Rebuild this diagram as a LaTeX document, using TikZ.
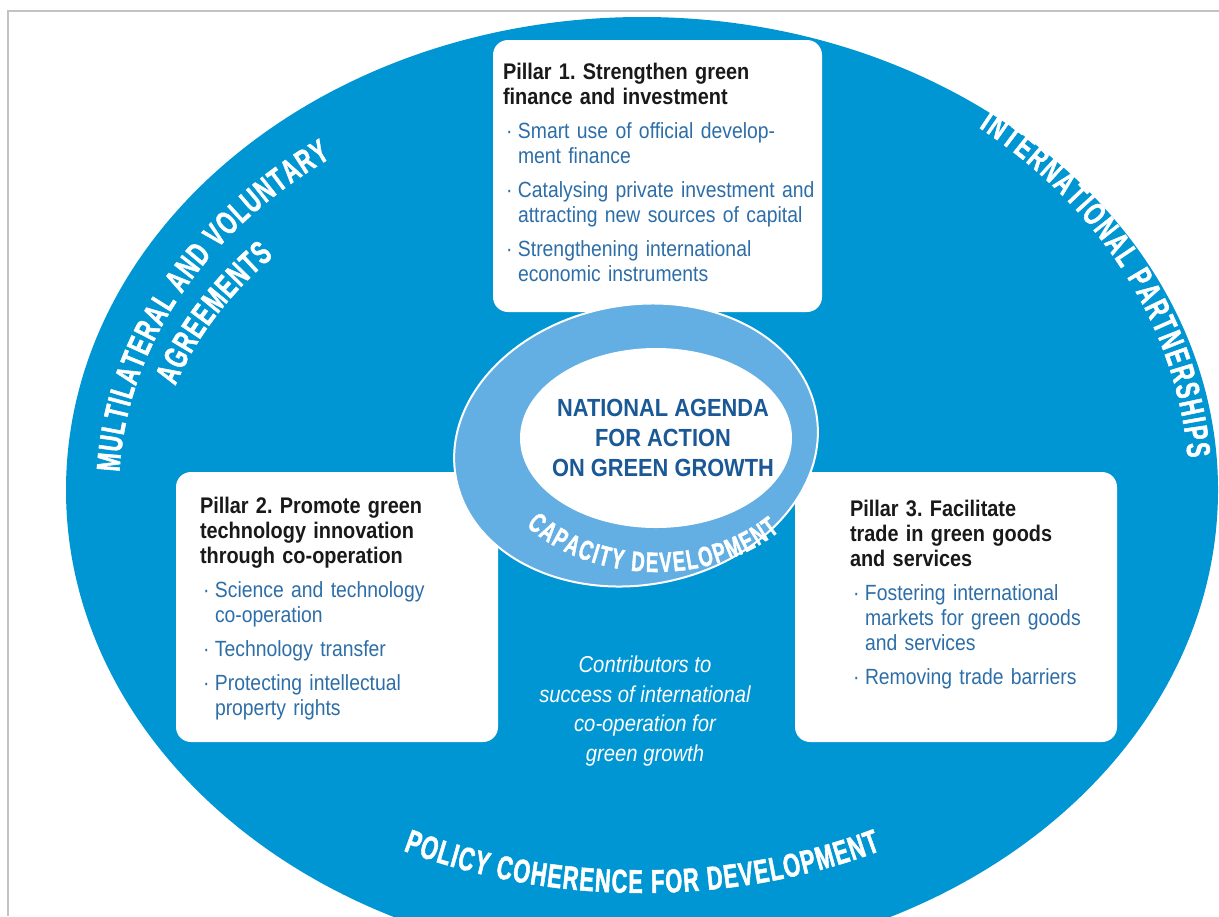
\documentclass[tikz,border=0pt]{standalone}
\usepackage{fontspec}
\setmainfont{Liberation Sans}[FakeStretch=0.88]
\newfontfamily\arcfont{Liberation Sans}[FakeStretch=0.66, FakeBold=1.5]
\usetikzlibrary{positioning,shapes.geometric,decorations.text}
\frenchspacing

\definecolor{oceanblue}{RGB}{0,150,211}
\definecolor{ringblue}{RGB}{99,174,226}
\definecolor{agendablue}{RGB}{27,88,150}
\definecolor{bulletblue}{RGB}{45,110,168}
\definecolor{headblack}{RGB}{25,25,25}
\definecolor{framegray}{RGB}{195,195,195}

% bullet with hanging indent (break its lines with \newline)
\newcommand{\pbul}{\par\vspace{4.5pt}\hangindent=7.5pt\hangafter=1\noindent\makebox[7.5pt][l]{\hspace{1.5pt}\textperiodcentered}}
\newcommand{\phead}[1]{{\bfseries\fontsize{11.3}{12.5}\selectfont\color{headblack}#1}}
\newcommand{\arcbig}{\arcfont\bfseries\fontsize{16.5}{16.5}\selectfont\color{white}}
\newcommand{\arcsmall}{\arcfont\bfseries\fontsize{14}{14}\selectfont\color{white}}

\begin{document}
\begin{tikzpicture}[x=0.5pt,y=0.5pt,
    pillarbox/.style={fill=white, rounded corners=7.5pt, inner sep=0pt},
    pillartext/.style={text width=160pt, align=left, inner sep=0pt,
      font=\fontsize{11}{12.5}\selectfont, text=bulletblue},
    curved/.style={decorate, decoration={text along path, text align=fit to path, text={#1}}}]
	\clip (0,0) rectangle (1219,-916);
	\draw[framegray, line width=0.8pt] (1219,-11) -- (8,-11) -- (8,-916);

	% outer band
	\node[ellipse, fill=oceanblue, inner sep=0pt, minimum width=576pt, minimum height=473pt] (world) at (642,-490) {};

	% the three pillars
	\node[pillarbox, minimum width=164.5pt, minimum height=136pt] (box_1) at (657.5,-176) {};
	\node[pillarbox, minimum width=161pt, minimum height=135pt] (box_2) at (337,-607) {};
	\node[pillarbox, minimum width=161pt, minimum height=135pt] (box_3) at (956,-607) {};

	% national agenda ring
	\node[ellipse, fill=ringblue, draw=white, line width=1pt, inner sep=0pt,
	  minimum width=183pt, minimum height=140pt, rotate=10] (ring) at (636,-445) {};
	\node[ellipse, fill=white, inner sep=0pt, minimum width=136pt, minimum height=90pt] (agenda) at (656,-438) {};

	\node[pillartext] (pillar_1) [below right=11.5pt and 5pt of box_1.north west]
	  {\phead{Pillar 1. Strengthen green\\finance and investment}
	   \pbul Smart use of official develop-\newline ment finance
	   \pbul Catalysing private investment and\newline attracting new sources of capital
	   \pbul Strengthening international\newline economic instruments\par};
	\node[pillartext] (pillar_2) [below right=12.5pt and 12pt of box_2.north west]
	  {\phead{Pillar 2. Promote green\\technology innovation\\through co-operation}
	   \pbul Science and technology\newline co-operation
	   \pbul Technology transfer
	   \pbul Protecting intellectual\newline property rights\par};
	\node[pillartext] (pillar_3) [below right=14pt and 27.5pt of box_3.north west]
	  {\phead{Pillar 3. Facilitate\\trade in green goods\\and services}
	   \pbul Fostering international\newline markets for green goods\newline and services
	   \pbul Removing trade barriers\par};

	\node[font=\bfseries\fontsize{12.4}{15}\selectfont, text=agendablue, align=center] (agenda_text) at ([xshift=3.5pt]agenda.center)
	  {NATIONAL AGENDA\\FOR ACTION\\ON GREEN GROWTH};
	\node[font=\itshape\fontsize{11.5}{14.75}\selectfont, text=white, align=center] (contrib) at (645,-711)
	  {Contributors to\\success of international\\co-operation for\\green growth};

	% lettering along the arcs
	\path[curved={|\arcbig|MULTILATERAL AND VOLUNTARY}]
	  (world.center) ++(177.5:523 and 413) arc[start angle=177.5, end angle=126.5, x radius=523, y radius=413];
	\path[curved={|\arcbig|AGREEMENTS}]
	  (world.center) ++(163:488 and 356) arc[start angle=163, end angle=139, x radius=488, y radius=356];
	\path[curved={|\arcbig|INTERNATIONAL PARTNERSHIPS}]
	  (world.center) ++(52:547 and 460) arc[start angle=52, end angle=4, x radius=547, y radius=460];
	\path[curved={|\arcbig|POLICY COHERENCE FOR DEVELOPMENT}]
	  (world.center) ++(243.5:535 and 403) arc[start angle=243.5, end angle=296.5, x radius=535, y radius=403];
	\path[curved={|\arcsmall|CAPACITY DEVELOPMENT}]
	  (agenda.center) ++(221:172 and 134) arc[start angle=221, end angle=316, x radius=172, y radius=134];
\end{tikzpicture}
\end{document}
